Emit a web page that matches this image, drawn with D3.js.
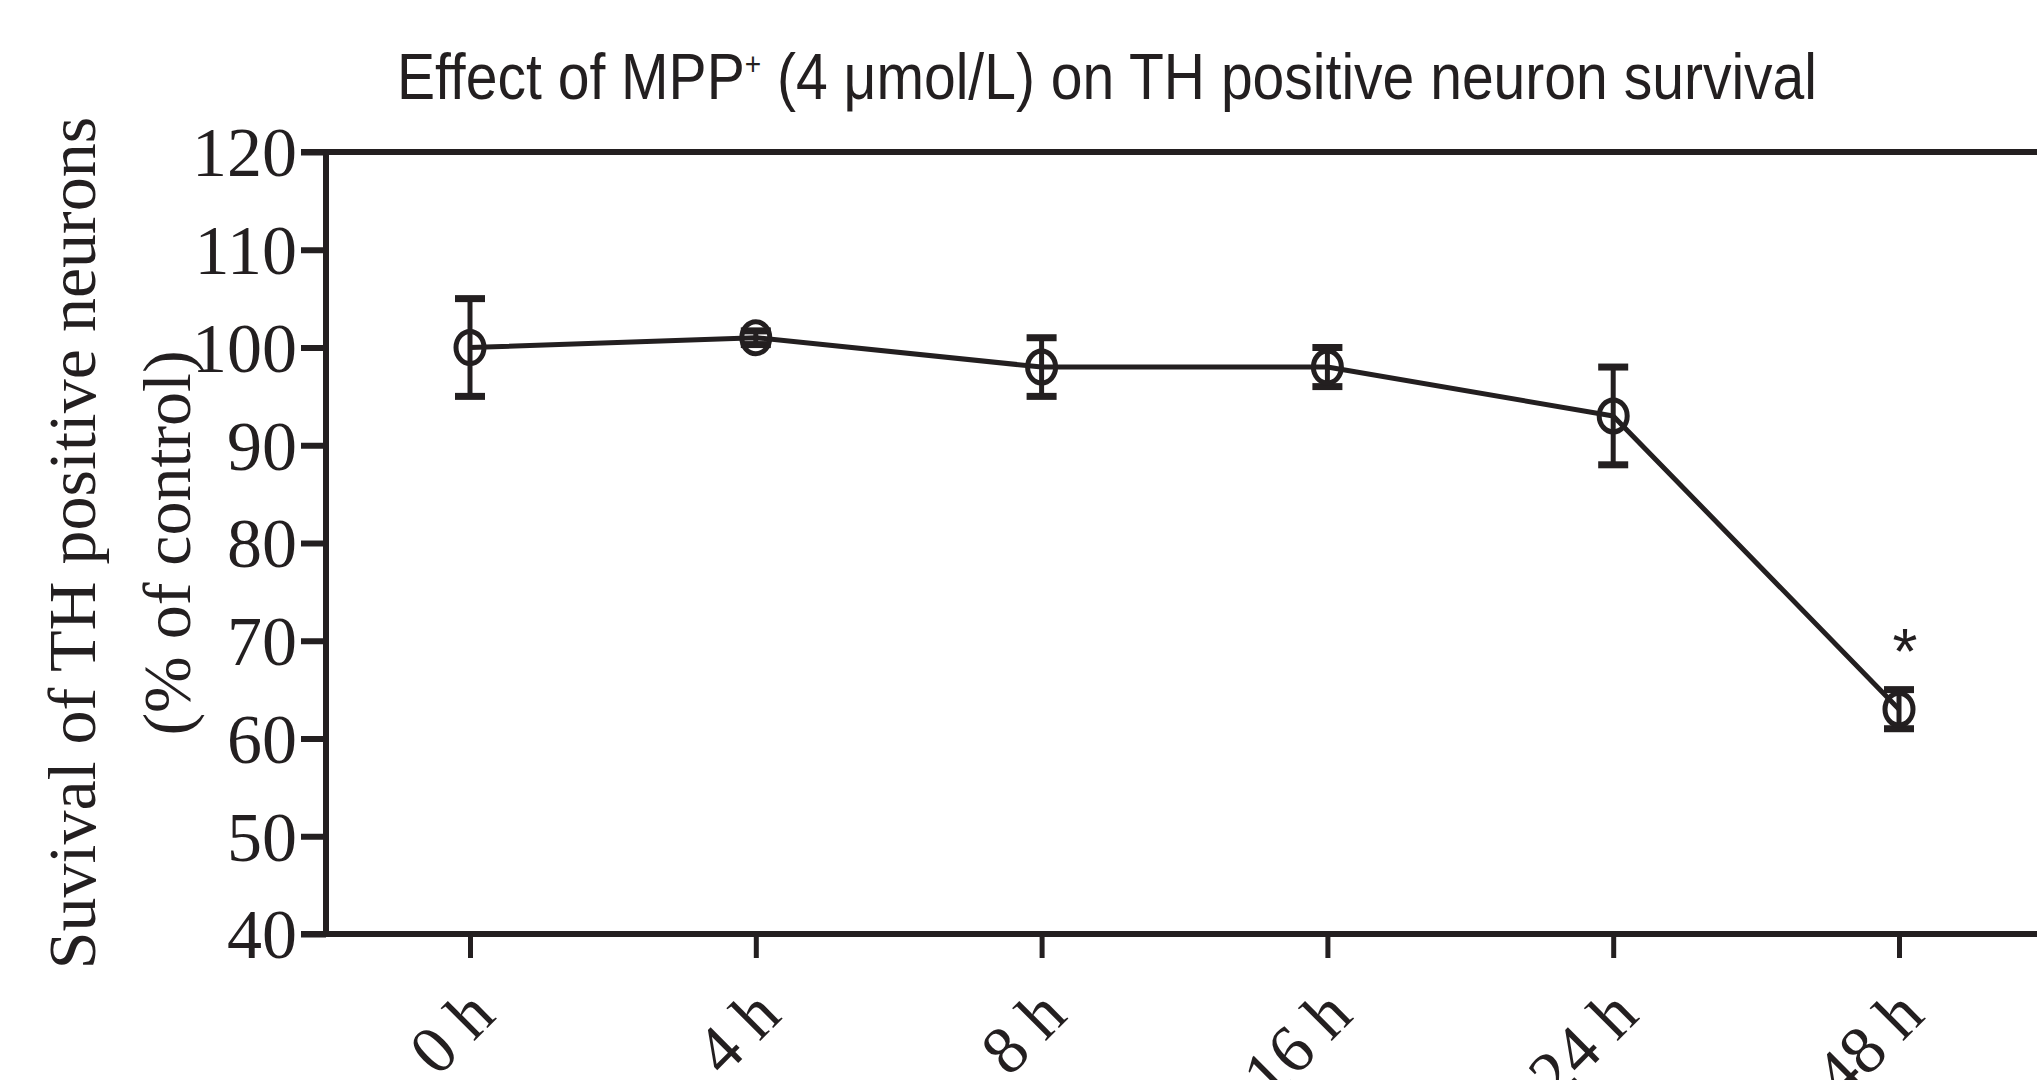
<!DOCTYPE html>
<html>
<head>
<meta charset="utf-8">
<script src="https://cdn.jsdelivr.net/npm/d3@7"></script>
<style>
  html, body { margin: 0; padding: 0; background: #fff; overflow: hidden; }
</style>
</head>
<body>
<div id="chart"></div>
<script>
// data
const timePoints = ["0 h", "4 h", "8 h", "16 h", "24 h", "48 h"];
const survival = [100, 101, 98, 98, 93, 63];
const sem = [5, 0.7, 3, 2, 5, 2];
const significant = [false, false, false, false, false, true];
const yTicks = [40, 50, 60, 70, 80, 90, 100, 110, 120];

const data = timePoints.map((t, i) => ({
    time: t,
    value: survival[i],
    err: sem[i],
    sig: significant[i]
}));

const width = 2037;
const height = 1080;
const ink = "#231f20";
const serif = "'Liberation Serif', 'Times New Roman', serif";

// plot frame
const frame = { left: 326, top: 152, bottom: 934, right: 2060 };

const svg = d3.select("#chart")
    .append("svg")
    .attr("width", width)
    .attr("height", height);

const x = d3.scalePoint()
    .domain(timePoints)
    .range([470, 1899]);

const y = d3.scaleLinear()
    .domain([40, 120])
    .range([frame.bottom, frame.top]);

// title (condensed sans, squeezed to the reference width)
const title = svg.append("text")
    .attr("x", 1107)
    .attr("y", 99)
    .attr("text-anchor", "middle")
    .attr("textLength", 1420)
    .attr("lengthAdjust", "spacingAndGlyphs")
    .style("font-family", "'Liberation Sans Narrow', 'Arial Narrow', 'Liberation Sans', sans-serif")
    .style("font-size", "65px")
    .attr("fill", ink);
title.append("tspan").text("Effect of MPP");
title.append("tspan").attr("dy", -24).style("font-size", "32px").text("+");
title.append("tspan").attr("dy", 24).text(" (4 μmol/L) on TH positive neuron survival");

// y axis
const yAxis = svg.append("g")
    .attr("transform", `translate(${frame.left},0)`)
    .call(d3.axisLeft(y).tickValues(yTicks).tickSize(25).tickSizeOuter(0).tickPadding(4));

yAxis.select(".domain").remove();
yAxis.selectAll(".tick line")
    .attr("stroke", ink)
    .attr("stroke-width", 6);
yAxis.selectAll(".tick text")
    .attr("fill", ink)
    .style("font-family", serif)
    .style("font-size", "70px")
    .attr("dy", "0.34em");

// x axis
const xAxis = svg.append("g")
    .attr("transform", `translate(0,${frame.bottom})`)
    .call(d3.axisBottom(x).tickSize(24).tickSizeOuter(0));

xAxis.select(".domain").remove();
xAxis.selectAll(".tick line")
    .attr("stroke", ink)
    .attr("stroke-width", 5);
xAxis.selectAll(".tick text")
    .attr("fill", ink)
    .style("font-family", serif)
    .style("font-size", "68px")
    .attr("text-anchor", "end")
    .attr("x", 0)
    .attr("y", 0)
    .attr("dy", 0)
    .attr("transform", "translate(27,84) rotate(-45)");

// frame lines (top, left, bottom)
svg.append("path")
    .attr("d", `M${frame.left - 25},${frame.top} H${frame.right} M${frame.left},${frame.top} V${frame.bottom} M${frame.left - 25},${frame.bottom} H${frame.right}`)
    .attr("fill", "none")
    .attr("stroke", ink)
    .attr("stroke-width", 6);

// connecting line
const line = d3.line()
    .x(d => x(d.time))
    .y(d => y(d.value));

svg.append("path")
    .datum(data)
    .attr("d", line)
    .attr("fill", "none")
    .attr("stroke", ink)
    .attr("stroke-width", 5)
    .attr("stroke-linejoin", "round");

// error bars
const bars = svg.selectAll(".err")
    .data(data)
    .enter().append("g")
    .attr("class", "err");

bars.append("line")
    .attr("x1", d => x(d.time))
    .attr("x2", d => x(d.time))
    .attr("y1", d => y(d.value + d.err))
    .attr("y2", d => y(d.value - d.err))
    .attr("stroke", ink)
    .attr("stroke-width", 5);

bars.selectAll(".cap")
    .data(d => [d.value + d.err, d.value - d.err].map(v => ({ time: d.time, v })))
    .enter().append("line")
    .attr("class", "cap")
    .attr("x1", d => x(d.time) - 15)
    .attr("x2", d => x(d.time) + 15)
    .attr("y1", d => y(d.v))
    .attr("y2", d => y(d.v))
    .attr("stroke", ink)
    .attr("stroke-width", 7);

// open circle markers
svg.selectAll(".pt")
    .data(data)
    .enter().append("ellipse")
    .attr("class", "pt")
    .attr("cx", d => x(d.time))
    .attr("cy", d => y(d.value))
    .attr("rx", 14)
    .attr("ry", 16)
    .attr("fill", "none")
    .attr("stroke", ink)
    .attr("stroke-width", 5);

// significance mark
svg.selectAll(".sig")
    .data(data.filter(d => d.sig))
    .enter().append("text")
    .attr("class", "sig")
    .attr("x", d => x(d.time) + 6)
    .attr("y", d => y(d.value + d.err) - 16)
    .attr("text-anchor", "middle")
    .style("font-family", "'Liberation Sans', Arial, sans-serif")
    .style("font-size", "64px")
    .attr("fill", ink)
    .text("*");

// y axis title, two lines
const yTitle = svg.append("text")
    .attr("transform", `translate(0,${(frame.top + frame.bottom) / 2}) rotate(-90)`)
    .attr("text-anchor", "middle")
    .style("font-family", serif)
    .style("font-size", "68px")
    .attr("fill", ink);

yTitle.append("tspan")
    .attr("x", 0)
    .attr("y", 95)
    .text("Suvival of TH positive neurons");

yTitle.append("tspan")
    .attr("x", 0)
    .attr("y", 190)
    .text("(% of control)");
</script>
</body>
</html>
